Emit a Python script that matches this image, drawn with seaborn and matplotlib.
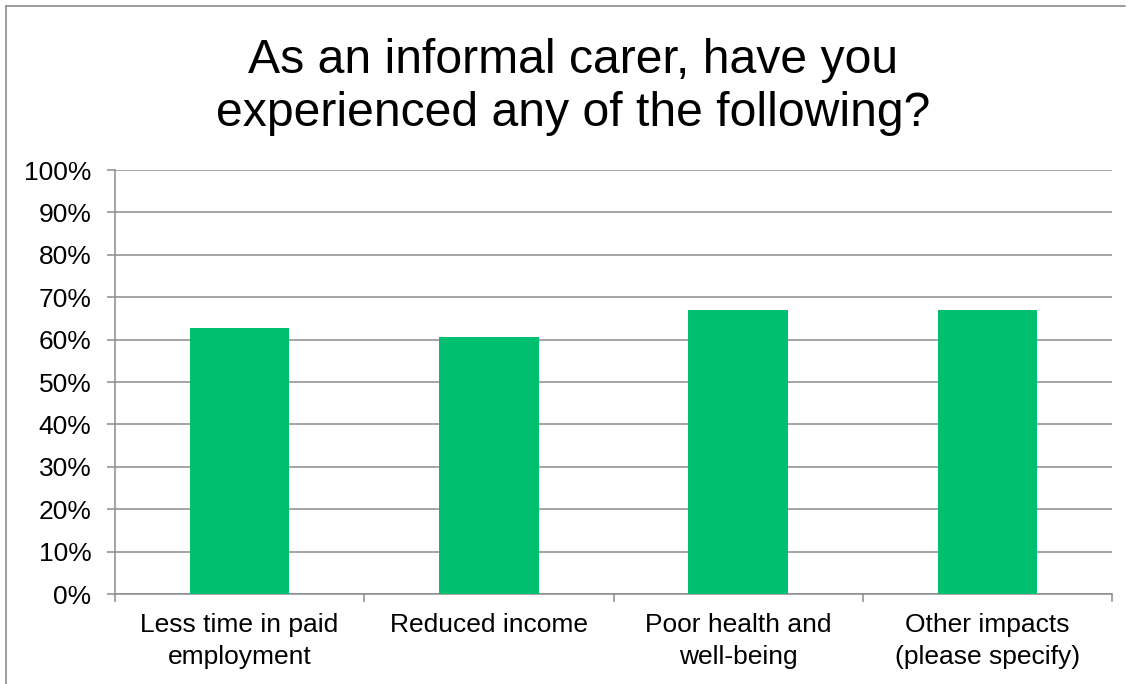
import matplotlib
matplotlib.use("Agg")
import matplotlib.pyplot as plt
import seaborn as sns
import pandas as pd
from matplotlib.ticker import FixedLocator, PercentFormatter
from matplotlib.lines import Line2D

categories = ["Less time in paid\nemployment", "Reduced income",
              "Poor health and\nwell-being", "Other impacts\n(please specify)"]
values = [62.8, 60.6, 67.0, 67.0]
yticks = [0, 10, 20, 30, 40, 50, 60, 70, 80, 90, 100]
title = "As an informal carer, have you\nexperienced any of the following?"

sns.set_theme(style="white")
plt.rcParams['font.family'] = ['Liberation Sans', 'DejaVu Sans']

df = pd.DataFrame({"cat": categories, "val": values})

fig = plt.figure(figsize=(11.28, 6.84), dpi=100)
ax = fig.add_axes([115/1128, 1-594/684, (1112-115)/1128, (594-170)/684])

sns.barplot(data=df, x="cat", y="val", color="#00BF6F", width=0.4,
            saturation=1, linewidth=0, ax=ax, zorder=3)

ax.set_ylim(0, 100)
ax.set_xlim(-0.5, len(categories) - 0.5)
ax.set_yticks(yticks)
ax.yaxis.set_major_formatter(PercentFormatter(decimals=0))
ax.set_xlabel("")
ax.set_ylabel("")

grid_c = "#8c8c8c"
ax.grid(axis="y", color=grid_c, linewidth=1.1, zorder=0)
ax.set_axisbelow(True)
for s in ["top", "right"]:
    ax.spines[s].set_visible(False)
for s in ["left", "bottom"]:
    ax.spines[s].set_color(grid_c)
    ax.spines[s].set_linewidth(1.1)

ax.tick_params(axis="y", which="major", direction="out", length=6, width=1.1,
               color=grid_c, left=True, labelsize=19, labelcolor="black", pad=11)
ax.tick_params(axis="x", which="major", length=0, labelsize=19,
               labelcolor="black", pad=14)
ax.xaxis.set_minor_locator(FixedLocator([i - 0.5 for i in range(len(categories) + 1)]))
ax.tick_params(axis="x", which="minor", direction="out", length=6, width=1.1,
               color=grid_c, bottom=True)
for lab in ax.get_xticklabels():
    lab.set_linespacing(1.4)

fig.text(0.508, 1 - 38/684, title, ha="center", va="top", fontsize=34.7,
         linespacing=1.23, color="black")

# outer frame (left and top edges visible)
fig.add_artist(Line2D([6/1128, 6/1128], [0, 1 - 6/684], transform=fig.transFigure,
                      color="#8c8c8c", linewidth=1.2))
fig.add_artist(Line2D([6/1128, 1125/1128], [1 - 6/684, 1 - 6/684], transform=fig.transFigure,
                      color="#8c8c8c", linewidth=1.2))

fig.savefig("out.png", dpi=100, facecolor="white")
